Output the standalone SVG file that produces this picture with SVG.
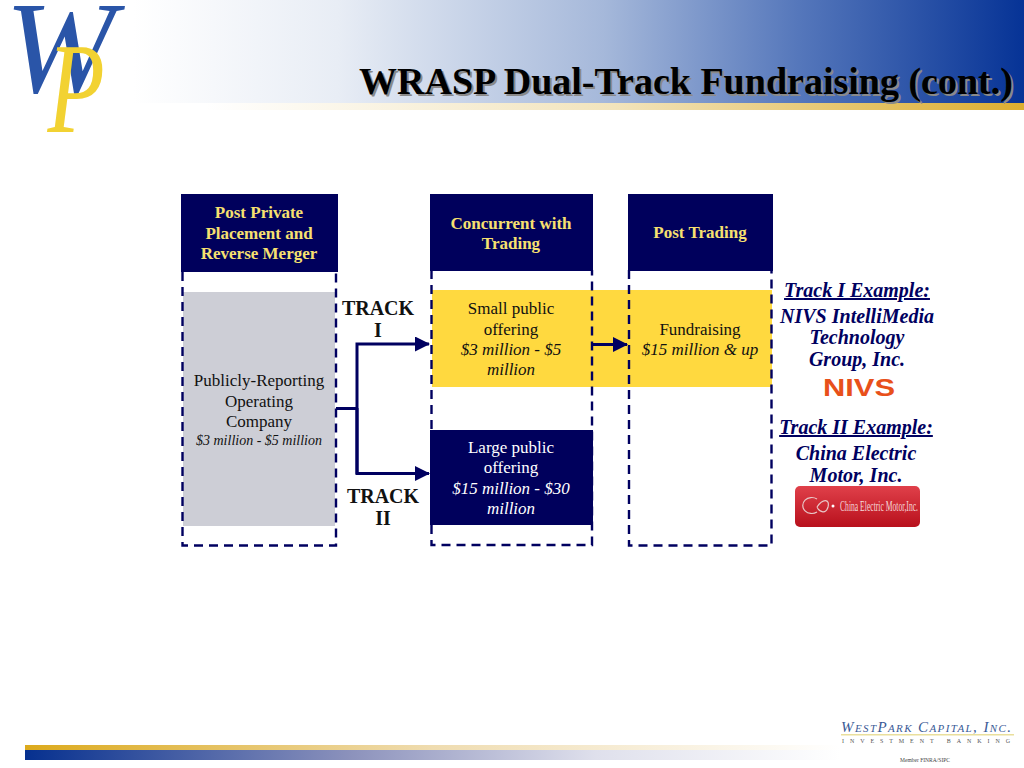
<svg xmlns="http://www.w3.org/2000/svg" width="1024" height="768" viewBox="0 0 1024 768">
<style>
text{font-family:"Liberation Serif","Times New Roman",serif;text-anchor:middle}
.h{font-size:17px;font-weight:bold;fill:#f7e070}
.b{font-size:17px;fill:#111}
.w{font-size:17px;fill:#fff}
.i{font-style:italic}
.s{font-size:14px}
.t{font-size:20px;font-weight:bold;fill:#111}
.ex{font-size:20px;font-weight:bold;font-style:italic;fill:#000060}
.ttl{font-size:38px;font-weight:bold}
.frame{fill:none;stroke:#000060;stroke-width:2.4;stroke-dasharray:9 6}
.navy{fill:#00005c}
.conn{fill:none;stroke:#000060;stroke-width:3}
</style>
<defs>
<linearGradient id="top" x1="0" x2="1" y1="0" y2="0"><stop offset="0.13" stop-color="#fff"/><stop offset="0.33" stop-color="#e8edf5"/><stop offset="0.59" stop-color="#a5b8da"/><stop offset="0.78" stop-color="#5577bb"/><stop offset="1" stop-color="#063396"/></linearGradient>
<linearGradient id="band" x1="0" x2="1" y1="0" y2="0"><stop offset="0.2" stop-color="#fff"/><stop offset="0.6" stop-color="#f2e4bc"/><stop offset="1" stop-color="#dcae30"/></linearGradient>
<linearGradient id="bot1" x1="0" x2="1" y1="0" y2="0"><stop offset="0" stop-color="#dcaa1c"/><stop offset="0.5" stop-color="#efdcb0"/><stop offset="1" stop-color="#fff"/></linearGradient>
<linearGradient id="bot2" x1="0" x2="1" y1="0" y2="0"><stop offset="0" stop-color="#06308f"/><stop offset="0.4" stop-color="#8c92bc"/><stop offset="0.7" stop-color="#dfe0ec"/><stop offset="1" stop-color="#fff"/></linearGradient>
<linearGradient id="red" x1="0" x2="0" y1="0" y2="1"><stop offset="0" stop-color="#e0404a"/><stop offset="1" stop-color="#b8101c"/></linearGradient>
<marker id="arr" markerUnits="userSpaceOnUse" markerWidth="15" markerHeight="15" refX="14" refY="7.5" orient="auto"><path d="M0 0L15 7.5L0 15Z" fill="#000060"/></marker>
</defs>
<g id="header">
<rect x="0" y="0" width="1024" height="104" fill="url(#top)"/>
<rect x="0" y="103" width="1024" height="7" fill="url(#band)"/>
<text class="ttl" x="688" y="96" fill="#8a8a8a">WRASP Dual-Track Fundraising (cont.)</text>
<text class="ttl" x="686" y="94" fill="#000">WRASP Dual-Track Fundraising (cont.)</text>
</g>
<g id="logo">
<text x="60" y="92" style="font-size:132px;font-style:italic;fill:#2a55a8">W</text>
<text transform="translate(76 132) scale(.72 1)" x="0" y="0" style="font-size:130px;font-style:italic;fill:#f2d232">P</text>
</g>
<g id="footer">
<rect x="25" y="745" width="815" height="5" fill="url(#bot1)"/>
<rect x="25" y="750" width="815" height="10" fill="url(#bot2)"/>
<text x="926" y="732" textLength="170" style="font-size:15px;font-style:italic;font-variant:small-caps;fill:#3a5a96">WestPark Capital, Inc.</text>
<rect x="841" y="734" width="173" height="1.500" fill="#eadf9c"/>
<text x="926" y="743" textLength="168" style="font-size:6px;fill:#555">INVESTMENT BANKING</text>
<text x="925" y="762" textLength="50" lengthAdjust="spacingAndGlyphs" style="font-size:6.5px;fill:#444">Member FINRA/SIPC</text>
</g>
<g id="col1">
<rect x="183" y="292" width="152" height="234" fill="#cdced6"/>
<path class="frame" d="M182.500 272V545.500H336V272"/>
<rect class="navy" x="181" y="194" width="157" height="78"/>
<text class="h" x="259" y="218">Post Private</text>
<text class="h" x="259" y="239">Placement and</text>
<text class="h" x="259" y="259">Reverse Merger</text>
<text class="b" x="259" y="386">Publicly-Reporting</text>
<text class="b" x="259" y="407">Operating</text>
<text class="b" x="259" y="427">Company</text>
<text class="b i s" x="259" y="445">$3 million - $5 million</text>
</g>
<g id="band-yellow"><rect x="432" y="290" width="340" height="97" fill="#ffd93f"/></g>
<g id="col2">
<path class="frame" d="M431.500 270V545H592V270"/>
<rect class="navy" x="430" y="194" width="163" height="77"/>
<text class="h" x="511" y="229">Concurrent with</text>
<text class="h" x="511" y="249">Trading</text>
<text class="b" x="511" y="314">Small public</text>
<text class="b" x="511" y="335">offering</text>
<text class="b i" x="511" y="355">$3 million - $5</text>
<text class="b i" x="511" y="375">million</text>
<rect class="navy" x="430" y="430" width="163" height="95"/>
<text class="w" x="511" y="453">Large public</text>
<text class="w" x="511" y="473">offering</text>
<text class="w i" x="511" y="494">$15 million - $30</text>
<text class="w i" x="511" y="514">million</text>
</g>
<g id="col3">
<path class="frame" d="M629 270V545.500H771.500V270"/>
<rect class="navy" x="628" y="194" width="145" height="77"/>
<text class="h" x="700" y="238">Post Trading</text>
<text class="b" x="700" y="335">Fundraising</text>
<text class="b i" x="700" y="355">$15 million &amp; up</text>
</g>
<g id="connectors">
<path class="conn" d="M336 408.500H357M357 474V344H429" marker-end="url(#arr)"/>
<path class="conn" d="M357 408V473.500H429" marker-end="url(#arr)"/>
<path class="conn" d="M592 344.500H627" marker-end="url(#arr)"/>
</g>
<g id="track1"><text class="t" x="378" y="315">TRACK</text><text class="t" x="378" y="337">I</text></g>
<g id="track2"><text class="t" x="383" y="503">TRACK</text><text class="t" x="383" y="525">II</text></g>
<g id="example1">
<text class="ex" x="857" y="297" text-decoration="underline">Track I Example:</text>
<text class="ex" x="857" y="323">NIVS IntelliMedia</text>
<text class="ex" x="857" y="344">Technology</text>
<text class="ex" x="857" y="366">Group, Inc.</text>
<text x="859" y="396" style="font-family:'Liberation Sans',sans-serif;font-size:24px;font-weight:bold;fill:#e8501a" textLength="72" lengthAdjust="spacingAndGlyphs">NIVS</text>
</g>
<g id="example2">
<text class="ex" x="856" y="434" text-decoration="underline">Track II Example:</text>
<text class="ex" x="856" y="460">China Electric</text>
<text class="ex" x="856" y="482">Motor, Inc.</text>
<rect x="795" y="486" width="125" height="41" rx="5" fill="url(#red)"/>
<path d="M817 499A9 8 0 1 0 817 512M817 507C823 498 830 499 828 507C826 514 820 513 817 507" fill="none" stroke="#e8c8c8" stroke-width="1.2"/>
<circle cx="833" cy="506" r="1.500" fill="#fff"/>
<text x="879" y="511" textLength="78" lengthAdjust="spacingAndGlyphs" style="font-size:15px;fill:#f4d8d8">China Electric Motor,Inc.</text>
</g>
</svg>
